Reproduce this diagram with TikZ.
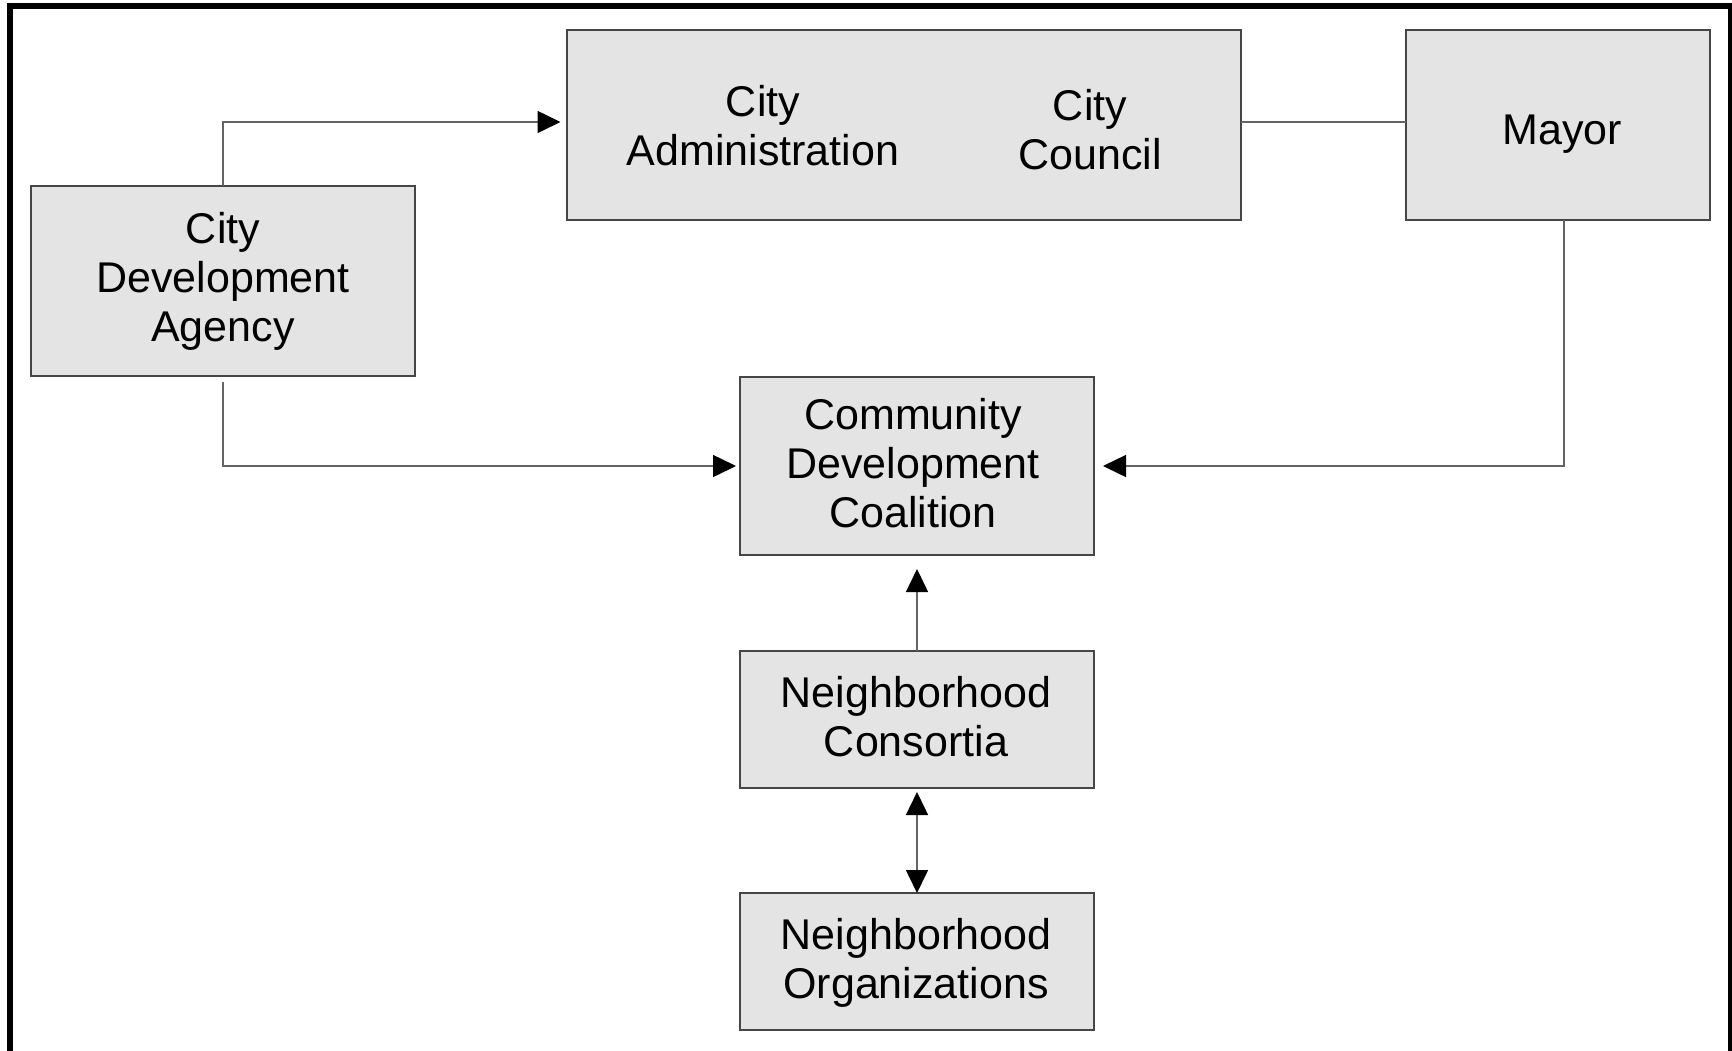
\documentclass[tikz,border=0pt]{standalone}
\usepackage{fontspec}
\setmainfont{Liberation Sans}
\usetikzlibrary{arrows.meta,calc}
\definecolor{boxfill}{RGB}{228,228,228}
\definecolor{boxline}{RGB}{70,70,70}
\definecolor{wire}{RGB}{100,100,100}
\begin{document}
\begin{tikzpicture}[x=1pt,y=-1pt,
  orgbox/.style={draw=boxline, fill=boxfill, line width=2pt, inner sep=0pt, outer sep=0pt},
  orgtext/.style={align=center, inner sep=0pt, outer sep=0pt, font=\fontsize{43}{49}\selectfont},
  link/.style={draw=wire, line width=1.5pt},
  headshape/.style={Triangle[length=23pt,width=22pt,color=black]},
  arrowlink/.style={-{Triangle[length=23pt,width=22pt,color=black]}},
  bothlink/.style={{Triangle[length=23pt,width=22pt,color=black]}-{Triangle[length=23pt,width=22pt,color=black]}}]
\useasboundingbox (0,0) rectangle (1732,1050);
\clip (0,0) rectangle (1732,1050);
\fill[white] (0,0) rectangle (1732,1050);

% outer frame (open at the bottom edge of the sheet)
\draw[black, line width=6pt] (10,1070) -- (10,6) -- (1731,6) -- (1731,1070);

% boxes
\node[orgbox, minimum width=384pt, minimum height=190pt] (cda) at (223,281) {};
\node[orgbox, minimum width=674pt, minimum height=190pt] (ca) at (904,125) {};
\node[orgbox, minimum width=304pt, minimum height=190pt] (mayor) at (1558,125) {};
\node[orgbox, minimum width=354pt, minimum height=178pt] (cdc) at (917,466) {};
\node[orgbox, minimum width=354pt, minimum height=137pt] (nc) at (917,719.5) {};
\node[orgbox, minimum width=354pt, minimum height=137pt] (no) at (917,961.5) {};

% labels
\node[orgtext] (cdatext) at (223,281) {City\\Development\\Agency};
\node[orgtext] (catext) at (763,126) {City\\Administration};
\node[orgtext] (cctext) at (1090,130) {City\\Council};
\node[orgtext] (mayortext) at (1562,134) {Mayor};
\node[orgtext] (cdctext) at (913,463) {Community\\Development\\Coalition};
\node[orgtext] (nctext) at (916,717) {Neighborhood\\Consortia};
\node[orgtext] (notext) at (916,962.5) {Neighborhood\\Organizations};

% connectors
\coordinate (topbus) at (0,122);
\coordinate (mdrop) at (1564,0);
\draw[link, arrowlink, shorten >=6.5pt] (cda.north) -- (cda.north |- topbus) -- (ca.west |- topbus);
\draw[link] (ca.east |- topbus) -- (mayor.west |- topbus);
\draw[link, arrowlink, shorten <=6pt, shorten >=4pt] (cda.south) -- (cda.south |- cdc.west) -- (cdc.west);
\draw[link, arrowlink, shorten >=9pt] (mayor.south -| mdrop) -- (mdrop |- cdc.east) -- (cdc.east);
\draw[link, arrowlink, shorten >=14pt] (nc.north) -- (cdc.south);
\draw[link, bothlink, shorten <=4pt] (nc.south) -- (no.north);
\end{tikzpicture}
\end{document}
